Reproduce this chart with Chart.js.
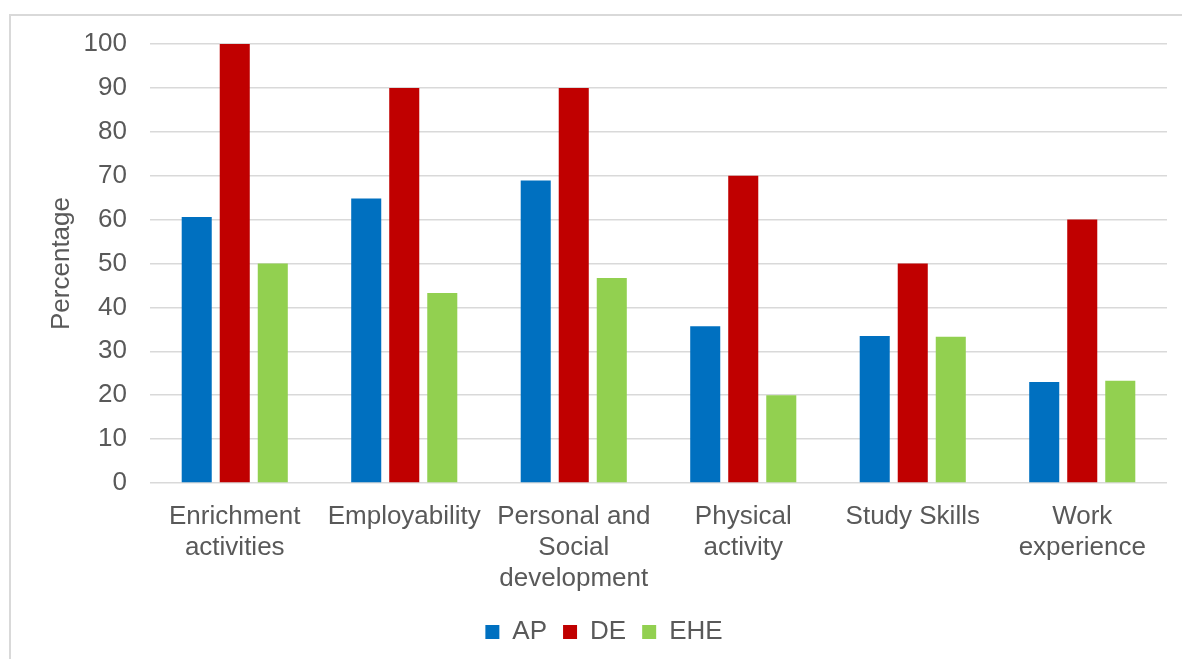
<!DOCTYPE html>
<html>
<head>
<meta charset="utf-8">
<script src="https://cdn.jsdelivr.net/npm/chart.js@4"></script>
<style>
  html, body { margin: 0; padding: 0; background: #ffffff; }
  #wrap { width: 1182px; height: 659px; position: relative; }
</style>
</head>
<body>
<div id="wrap"><canvas id="chart" width="1182" height="659"></canvas></div>
<script>
// Categories (multi-line labels) and percentages per group
const categories = [
  ['Enrichment', 'activities'],
  ['Employability'],
  ['Personal and', 'Social', 'development'],
  ['Physical', 'activity'],
  ['Study Skills'],
  ['Work', 'experience']
];
const apValues  = [60.6, 64.8, 68.9, 35.7, 33.5, 23.0];
const deValues  = [100, 90, 90, 70, 50, 60];
const eheValues = [50, 43.3, 46.7, 20, 33.3, 23.3];
const seriesNames = ['AP', 'DE', 'EHE'];
const yTicks = [0, 10, 20, 30, 40, 50, 60, 70, 80, 90, 100];

const FONT = '"Liberation Sans", Arial, sans-serif';
const TEXT = '#595959';
const GRID = '#d9d9d9';

// light grey frame around the whole figure
const framePlugin = {
  id: 'frame',
  beforeDraw(chart) {
    const ctx = chart.ctx;
    ctx.save();
    ctx.fillStyle = '#ffffff';
    ctx.fillRect(0, 0, chart.width, chart.height);
    ctx.strokeStyle = GRID;
    ctx.lineWidth = 2;
    ctx.strokeRect(10, 15, chart.width + 20, chart.height + 20);
    ctx.restore();
  }
};

new Chart(document.getElementById('chart'), {
  type: 'bar',
  data: {
    labels: categories,
    datasets: [
      { label: seriesNames[0], data: apValues,  backgroundColor: '#0070C0' },
      { label: seriesNames[1], data: deValues,  backgroundColor: '#C00000' },
      { label: seriesNames[2], data: eheValues, backgroundColor: '#92D050' }
    ]
  },
  options: {
    responsive: false,
    animation: false,
    events: [],
    datasets: { bar: { categoryPercentage: 0.673, barPercentage: 0.79 } },
    layout: { padding: { left: 41, right: 15, top: 44, bottom: 4 } },
    plugins: {
      legend: {
        position: 'bottom',
        labels: {
          color: TEXT,
          font: { family: FONT, size: 26 },
          boxWidth: 14,
          boxHeight: 14,
          padding: 16
        }
      },
      tooltip: { enabled: false }
    },
    scales: {
      x: {
        grid: { display: false, drawTicks: false },
        border: { display: false },
        ticks: {
          color: TEXT,
          font: { family: FONT, size: 26, lineHeight: 1.2 },
          padding: 18,
          maxRotation: 0,
          autoSkip: false
        },
        afterFit(scale) { scale.height = 120; }
      },
      y: {
        min: 0,
        max: 100,
        afterBuildTicks(scale) { scale.ticks = yTicks.map(v => ({ value: v })); },
        grid: { color: GRID, lineWidth: 1.5, drawTicks: false },
        border: { display: false },
        ticks: {
          color: TEXT,
          font: { family: FONT, size: 26 },
          padding: 23
        },
        title: {
          display: true,
          text: 'Percentage',
          color: TEXT,
          font: { family: FONT, size: 26, lineHeight: 1.2 },
          padding: { top: 5, bottom: 4 }
        },
        afterFit(scale) { scale.width = 109; }
      }
    }
  },
  plugins: [framePlugin]
});
</script>
</body>
</html>
